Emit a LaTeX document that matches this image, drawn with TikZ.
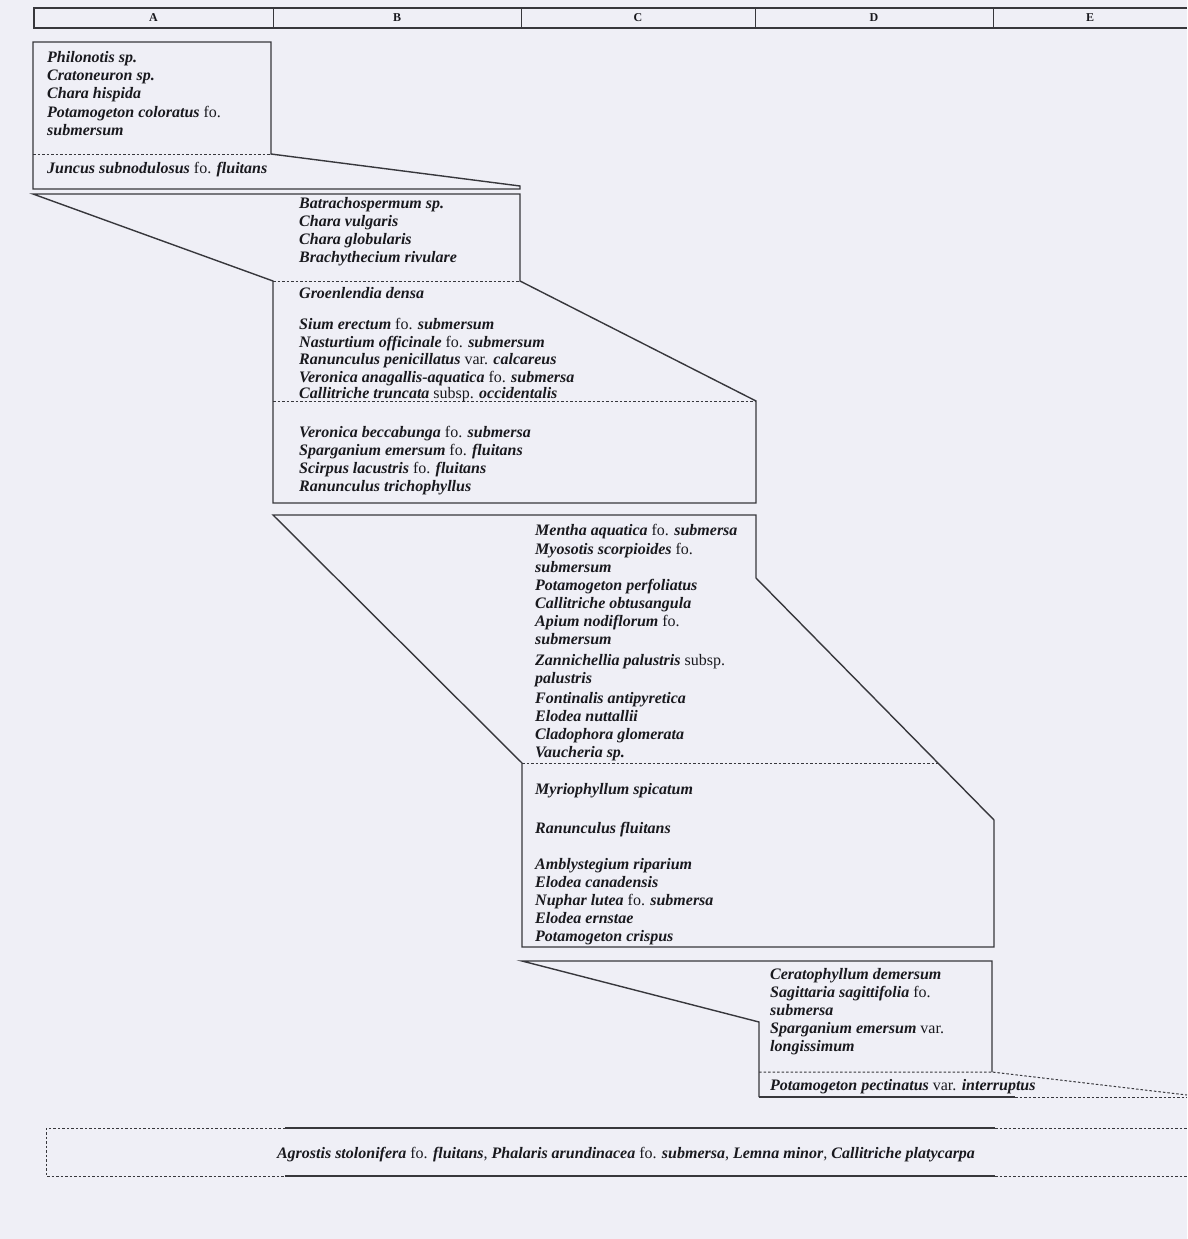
\documentclass[tikz,border=0pt]{standalone}
\usepackage{fontspec}
\setmainfont{Liberation Serif}
\definecolor{bg}{RGB}{239,239,246}
\definecolor{ln}{RGB}{55,55,60}
\definecolor{txt}{RGB}{25,25,30}
\newcommand{\Nm}[1]{\textbf{\textit{#1}}}
\tikzset{
  solidln/.style={draw=ln, line width=1.4pt, line join=miter},
  dashln/.style={draw=ln, line width=1pt, dash pattern=on 2.5pt off 2pt},
  lbl/.style={anchor=base west, inner sep=0pt, text=txt, font=\fontsize{16}{18}\selectfont},
  hdr/.style={anchor=base, inner sep=0pt, text=txt, font=\fontsize{12}{12}\selectfont\bfseries},
}
\begin{document}
\begin{tikzpicture}[x=1pt,y=-1pt]
\useasboundingbox (0,0) rectangle (1187,1239);
\fill[bg] (0,0) rectangle (1187,1239);

% ---------- header ----------
\coordinate (h1) at (34,8);
\coordinate (h2) at (1187,8);
\coordinate (h3) at (1187,28);
\coordinate (h4) at (34,28);
\draw[solidln] (h2) -- (h1) -- (h4) -- (h3);
\foreach \x in {273,521,755,993} \draw[solidln, line width=1pt] (\x,8) -- (\x,28);
\node[hdr] (hA) at (153.5,22) {A};
\node[hdr] (hB) at (397,22) {B};
\node[hdr] (hC) at (638,22) {C};
\node[hdr] (hD) at (874,22) {D};
\node[hdr] (hE) at (1090,22) {E};

% ---------- band A ----------
\coordinate (a1) at (33,42);
\coordinate (a2) at (271,42);
\coordinate (a3) at (271,154);
\coordinate (a4) at (520,186);
\coordinate (a5) at (520,189);
\coordinate (a6) at (33,189);
\coordinate (ad) at (33,154);
\draw[solidln] (a1) -- (a2) -- (a3) -- (a4) -- (a5) -- (a6) -- cycle;
\draw[dashln] (ad) -- (a3);

\node[lbl] (al1) at (47,63) {\Nm{Philonotis sp.}};
\node[lbl] (al2) at (47,81) {\Nm{Cratoneuron sp.}};
\node[lbl] (al3) at (47,99) {\Nm{Chara hispida}};
\node[lbl] (al4) at (47,117) {\Nm{Potamogeton coloratus} fo.};
\node[lbl] (al5) at (47,135) {\Nm{submersum}};
\node[lbl] (al6) at (47,173) {\Nm{Juncus subnodulosus} fo. \Nm{fluitans}};

% ---------- band B ----------
\coordinate (b1) at (33,194);
\coordinate (b2) at (520,194);
\coordinate (b3) at (520,281);
\coordinate (b4) at (756,401);
\coordinate (b5) at (756,503);
\coordinate (b6) at (273,503);
\coordinate (b7) at (273,281);
\coordinate (bd) at (273,401);
\draw[solidln] (b1) -- (b2) -- (b3) -- (b4) -- (b5) -- (b6) -- (b7) -- cycle;
\draw[dashln] (b7) -- (b3);
\draw[dashln] (bd) -- (b4);

\node[lbl] (bl1) at (299,208) {\Nm{Batrachospermum sp.}};
\node[lbl] (bl2) at (299,226) {\Nm{Chara vulgaris}};
\node[lbl] (bl3) at (299,244) {\Nm{Chara globularis}};
\node[lbl] (bl4) at (299,262) {\Nm{Brachythecium rivulare}};
\node[lbl] (bl5) at (299,298) {\Nm{Groenlendia densa}};
\node[lbl] (bl6) at (299,329) {\Nm{Sium erectum} fo. \Nm{submersum}};
\node[lbl] (bl7) at (299,347) {\Nm{Nasturtium officinale} fo. \Nm{submersum}};
\node[lbl] (bl8) at (299,364.5) {\Nm{Ranunculus penicillatus} var. \Nm{calcareus}};
\node[lbl] (bl9) at (299,382) {\Nm{Veronica anagallis-aquatica} fo. \Nm{submersa}};
\node[lbl] (bl10) at (299,398.5) {\Nm{Callitriche truncata} subsp. \Nm{occidentalis}};
\node[lbl] (bl11) at (299,437) {\Nm{Veronica beccabunga} fo. \Nm{submersa}};
\node[lbl] (bl12) at (299,455) {\Nm{Sparganium emersum} fo. \Nm{fluitans}};
\node[lbl] (bl13) at (299,473) {\Nm{Scirpus lacustris} fo. \Nm{fluitans}};
\node[lbl] (bl14) at (299,491) {\Nm{Ranunculus trichophyllus}};

% ---------- band C ----------
\coordinate (c1) at (273,515);
\coordinate (c2) at (756,515);
\coordinate (c3) at (756,578);
\coordinate (c4) at (994,820);
\coordinate (c5) at (994,947);
\coordinate (c6) at (522,947);
\coordinate (c7) at (522,763);
\coordinate (cd) at (938,763);
\draw[solidln] (c1) -- (c2) -- (c3) -- (c4) -- (c5) -- (c6) -- (c7) -- cycle;
\draw[dashln] (c7) -- (cd);

\node[lbl] (cl1) at (535,535) {\Nm{Mentha aquatica} fo. \Nm{submersa}};
\node[lbl] (cl2) at (535,554) {\Nm{Myosotis scorpioides} fo.};
\node[lbl] (cl3) at (535,572) {\Nm{submersum}};
\node[lbl] (cl4) at (535,590) {\Nm{Potamogeton perfoliatus}};
\node[lbl] (cl5) at (535,608) {\Nm{Callitriche obtusangula}};
\node[lbl] (cl6) at (535,626) {\Nm{Apium nodiflorum} fo.};
\node[lbl] (cl7) at (535,644) {\Nm{submersum}};
\node[lbl] (cl8) at (535,665) {\Nm{Zannichellia palustris} subsp.};
\node[lbl] (cl9) at (535,683) {\Nm{palustris}};
\node[lbl] (cl10) at (535,703) {\Nm{Fontinalis antipyretica}};
\node[lbl] (cl11) at (535,721) {\Nm{Elodea nuttallii}};
\node[lbl] (cl12) at (535,739) {\Nm{Cladophora glomerata}};
\node[lbl] (cl13) at (535,757) {\Nm{Vaucheria sp.}};
\node[lbl] (cl14) at (535,794) {\Nm{Myriophyllum spicatum}};
\node[lbl] (cl15) at (535,833) {\Nm{Ranunculus fluitans}};
\node[lbl] (cl16) at (535,869) {\Nm{Amblystegium riparium}};
\node[lbl] (cl17) at (535,887) {\Nm{Elodea canadensis}};
\node[lbl] (cl18) at (535,905) {\Nm{Nuphar lutea} fo. \Nm{submersa}};
\node[lbl] (cl19) at (535,923) {\Nm{Elodea ernstae}};
\node[lbl] (cl20) at (535,941) {\Nm{Potamogeton crispus}};

% ---------- band D ----------
\coordinate (d1) at (522,961);
\coordinate (d2) at (992,961);
\coordinate (d3) at (992,1072);
\coordinate (d4) at (759,1022);
\coordinate (d5) at (759,1097);
\coordinate (d6) at (1015,1097);
\coordinate (d7) at (1187,1097);
\coordinate (d8) at (1187,1095);
\coordinate (dd) at (759,1072);
\draw[solidln] (d5) -- (d4) -- (d1) -- (d2) -- (d3);
\draw[solidln] (d5) -- (d6);
\draw[dashln] (d6) -- (d7);
\draw[dashln] (dd) -- (d3) -- (d8);

\node[lbl] (dl1) at (770,979) {\Nm{Ceratophyllum demersum}};
\node[lbl] (dl2) at (770,997) {\Nm{Sagittaria sagittifolia} fo.};
\node[lbl] (dl3) at (770,1015) {\Nm{submersa}};
\node[lbl] (dl4) at (770,1033) {\Nm{Sparganium emersum} var.};
\node[lbl] (dl5) at (770,1051) {\Nm{longissimum}};
\node[lbl] (dl6) at (770,1090) {\Nm{Potamogeton pectinatus} var. \Nm{interruptus}};

% ---------- band E (bottom) ----------
\coordinate (e1) at (46,1128);
\coordinate (e2) at (285,1128);
\coordinate (e3) at (995,1128);
\coordinate (e4) at (1187,1128);
\coordinate (e5) at (46,1176);
\coordinate (e6) at (285,1176);
\coordinate (e7) at (995,1176);
\coordinate (e8) at (1187,1176);
\draw[dashln] (e2) -- (e1) -- (e5) -- (e6);
\draw[solidln] (e2) -- (e3);
\draw[solidln] (e6) -- (e7);
\draw[dashln] (e3) -- (e4);
\draw[dashln] (e7) -- (e8);

\node[lbl, anchor=base] (el1) at (626,1158) {\Nm{Agrostis stolonifera} fo. \Nm{fluitans}, \Nm{Phalaris arundinacea} fo. \Nm{submersa}, \Nm{Lemna minor}, \Nm{Callitriche platycarpa}};
\end{tikzpicture}
\end{document}
